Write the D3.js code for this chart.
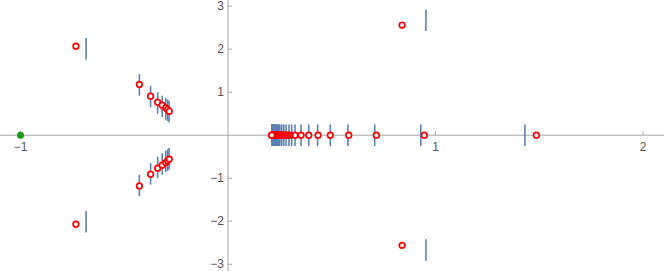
<!DOCTYPE html>
<html>
<head>
<meta charset="utf-8">
<script src="https://cdn.jsdelivr.net/npm/d3@7"></script>
<style>
  body { margin: 0; background: #fff; }
  svg { display: block; }
</style>
</head>
<body>
<svg id="chart" width="664" height="271"></svg>
<script>
const WIDTH = 664;
const HEIGHT = 271;

// red rings: real roots on the axis, then complex pairs
const redReal = [1.486, 0.946, 0.715, 0.582, 0.493, 0.434, 0.389, 0.352, 0.323, 0.299,
  0.290, 0.282, 0.275, 0.268, 0.262, 0.257, 0.252, 0.248, 0.244, 0.241, 0.238, 0.235,
  0.232, 0.230, 0.228, 0.226, 0.224, 0.222, 0.220, 0.219, 0.217, 0.216, 0.215, 0.214,
  0.213, 0.212, 0.2115, 0.211];
const redComplex = [
  [-0.733, 2.07], [0.839, 2.56],
  [-0.427, 1.18], [-0.373, 0.907], [-0.339, 0.766], [-0.317, 0.696],
  [-0.300, 0.636], [-0.291, 0.596], [-0.283, 0.556]
];

// blue bars: centres of the short vertical marks
const blueReal = [1.431, 0.929, 0.707, 0.578, 0.493, 0.432, 0.389, 0.352, 0.323, 0.307,
  0.294, 0.280, 0.269, 0.259, 0.250, 0.246, 0.243, 0.240, 0.237, 0.234, 0.232, 0.230,
  0.228, 0.226, 0.224, 0.222, 0.221, 0.219, 0.218, 0.217, 0.216, 0.215, 0.214, 0.213,
  0.212, 0.211];
const blueComplex = [
  [-0.684, 2.01], [0.954, 2.67],
  [-0.427, 1.17], [-0.373, 0.90], [-0.339, 0.75], [-0.317, 0.67],
  [-0.300, 0.61], [-0.291, 0.58], [-0.284, 0.55]
];
const BAR_HALF = 0.25;

const greenPoint = [[-1, 0]];

const xTicks = [-1, 1, 2];
const yTicks = [-3, -2, -1, 1, 2, 3];

const x = d3.scaleLinear().domain([-1.0988, 2.1012]).range([0, WIDTH]);
const y = d3.scaleLinear().domain([-3.1565, 3.1425]).range([HEIGHT, 0]);

const svg = d3.select('#chart');
const AXIS_COLOR = '#a6a6a6';
const TEXT_COLOR = '#555';

// mirror complex pairs
const mirror = arr => arr.flatMap(([re, im]) => [[re, im], [re, -im]]);
const redPts = redReal.map(v => [v, 0]).concat(mirror(redComplex));
const bluePts = blueReal.map(v => [v, 0]).concat(mirror(blueComplex));

// axes
svg.append('line')
  .attr('x1', 0).attr('x2', WIDTH)
  .attr('y1', y(0)).attr('y2', y(0))
  .attr('stroke', AXIS_COLOR).attr('stroke-width', 1);
svg.append('line')
  .attr('x1', x(0)).attr('x2', x(0))
  .attr('y1', 0).attr('y2', HEIGHT)
  .attr('stroke', AXIS_COLOR).attr('stroke-width', 1);

const fmt = d => d < 0 ? '\u2212' + Math.abs(d) : String(d);

xTicks.forEach(t => {
  svg.append('line')
    .attr('x1', x(t)).attr('x2', x(t))
    .attr('y1', y(0)).attr('y2', y(0) - 4)
    .attr('stroke', AXIS_COLOR);
  svg.append('text')
    .attr('x', x(t)).attr('y', y(0) + 16)
    .attr('text-anchor', 'middle')
    .attr('font-family', 'Liberation Sans, Arial, sans-serif')
    .attr('font-size', 12)
    .attr('fill', TEXT_COLOR)
    .text(fmt(t));
});

yTicks.forEach(t => {
  svg.append('line')
    .attr('x1', x(0)).attr('x2', x(0) + 4)
    .attr('y1', y(t)).attr('y2', y(t))
    .attr('stroke', AXIS_COLOR);
  svg.append('text')
    .attr('x', x(0) - 4).attr('y', y(t) + 4)
    .attr('text-anchor', 'end')
    .attr('font-family', 'Liberation Sans, Arial, sans-serif')
    .attr('font-size', 12)
    .attr('fill', TEXT_COLOR)
    .text(fmt(t));
});

// blue bars
svg.append('g').selectAll('line')
  .data(bluePts)
  .join('line')
  .attr('x1', d => x(d[0])).attr('x2', d => x(d[0]))
  .attr('y1', d => y(d[1] + BAR_HALF)).attr('y2', d => y(d[1] - BAR_HALF))
  .attr('stroke', '#5e81b5')
  .attr('stroke-width', 1.6);

// red rings
svg.append('g').selectAll('circle')
  .data(redPts)
  .join('circle')
  .attr('cx', d => x(d[0])).attr('cy', d => y(d[1]))
  .attr('r', 2.8)
  .attr('fill', 'white')
  .attr('stroke', '#ff0000')
  .attr('stroke-width', 1.7);

// green point
svg.append('g').selectAll('circle')
  .data(greenPoint)
  .join('circle')
  .attr('cx', d => x(d[0])).attr('cy', d => y(d[1]))
  .attr('r', 3.5)
  .attr('fill', '#1a9a1a');
</script>
</body>
</html>
